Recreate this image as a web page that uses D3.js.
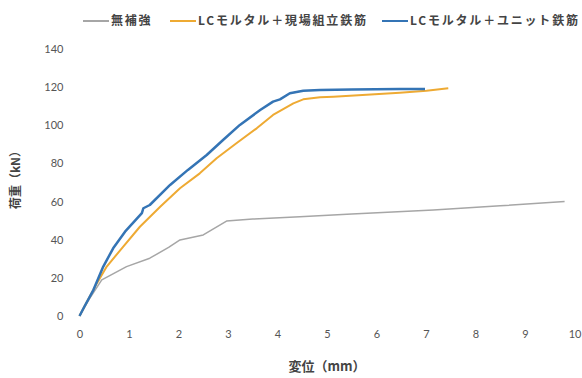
<!DOCTYPE html>
<html>
<head>
<meta charset="utf-8">
<script src="https://cdn.jsdelivr.net/npm/d3@7"></script>
<style>
  body { margin: 0; background: #fff; }
  svg text { font-family: "Noto Sans CJK JP", "Noto Sans", sans-serif; }
  .tick text { font-family: Lato, "Noto Sans", sans-serif; font-size: 11px; fill: #555; }
</style>
</head>
<body>
<div id="chart"></div>
<script>
// series names (legend order)
const seriesNames = ["無補強", "LCモルタル＋現場組立鉄筋", "LCモルタル＋ユニット鉄筋"];
const seriesColors = ["#a6a6a6", "#eeaa33", "#3474b5"];
const seriesWidths = [1.5, 2, 2.5];

// displacement (mm) / load (kN)
const plainDisp = [0, 0.2, 0.45, 0.95, 1.42, 1.8, 2.03, 2.5, 2.97, 3.5, 4.45, 5.5, 7.15, 8.5, 9.8];
const plainLoad = [0, 9, 18.9, 25.9, 30.3, 36, 39.9, 42.5, 49.8, 50.8, 52.1, 53.5, 55.6, 57.8, 60];

const siteDisp = [0, 0.1, 0.35, 0.55, 0.88, 1.22, 1.63, 2.03, 2.43, 2.77, 3.17, 3.58, 3.91, 4.32, 4.52, 4.86, 5.13, 5.8, 6.47, 7.01, 7.45];
const siteLoad = [0, 5, 17.1, 25.9, 36.3, 46.8, 57.3, 67, 74.8, 82.7, 90.6, 98.4, 105.4, 111.5, 113.6, 114.7, 115, 116, 117, 118.1, 119.4];

const unitDisp = [0, 0.1, 0.28, 0.48, 0.68, 0.92, 1.26, 1.29, 1.42, 1.83, 2.19, 2.57, 2.9, 3.24, 3.65, 3.91, 4.05, 4.25, 4.52, 4.86, 5.5, 6.47, 6.98];
const unitLoad = [0, 5, 13.6, 25.9, 35.5, 44.2, 53.9, 56.5, 58.2, 68.7, 76.6, 84.4, 92.3, 100.2, 108, 112.4, 113.6, 116.8, 118.1, 118.5, 118.8, 119, 119];

const xTicks = [0, 1, 2, 3, 4, 5, 6, 7, 8, 9, 10];
const yTicks = [0, 20, 40, 60, 80, 100, 120, 140];

const width = 582, height = 378;
const margin = {top: 49, right: 7.5, bottom: 62, left: 79.5};

const svg = d3.select("#chart").append("svg")
  .attr("width", width)
  .attr("height", height);

const x = d3.scaleLinear().domain([0, 10]).range([margin.left, width - margin.right]);
const y = d3.scaleLinear().domain([0, 140]).range([height - margin.bottom, margin.top]);

// axes, no domain line, no ticks
svg.append("g")
  .attr("transform", `translate(0,${height - margin.bottom})`)
  .call(d3.axisBottom(x).tickValues(xTicks).tickSize(0).tickPadding(14).tickFormat(d3.format("d")))
  .call(g => g.select(".domain").remove());

svg.append("g")
  .attr("transform", `translate(${margin.left},0)`)
  .call(d3.axisLeft(y).tickValues(yTicks).tickSize(0).tickPadding(16).tickFormat(d3.format("d")))
  .call(g => g.select(".domain").remove());

const series = [
  plainDisp.map((d, i) => [d, plainLoad[i]]),
  siteDisp.map((d, i) => [d, siteLoad[i]]),
  unitDisp.map((d, i) => [d, unitLoad[i]])
];

const line = d3.line()
  .x(d => x(d[0]))
  .y(d => y(d[1]));

svg.append("g")
  .selectAll("path")
  .data(series)
  .enter()
  .append("path")
  .attr("d", line)
  .attr("fill", "none")
  .attr("stroke", (d, i) => seriesColors[i])
  .attr("stroke-width", (d, i) => seriesWidths[i])
  .attr("stroke-linejoin", "round");

// axis titles
svg.append("text")
  .attr("x", (margin.left + width - margin.right) / 2)
  .attr("y", 371)
  .attr("text-anchor", "middle")
  .attr("font-size", 13)
  .attr("font-weight", "bold")
  .attr("fill", "#444")
  .text("変位（mm）");

svg.append("text")
  .attr("transform", "translate(20,177) rotate(-90)")
  .attr("text-anchor", "middle")
  .attr("font-size", 12)
  .attr("font-weight", "bold")
  .attr("fill", "#444")
  .text("荷重（kN）");

// legend
const legendX = [83, 170, 382];
const legend = svg.append("g")
  .selectAll("g")
  .data(seriesNames)
  .enter()
  .append("g")
  .attr("transform", (d, i) => `translate(${legendX[i]},21)`);

legend.append("line")
  .attr("x1", 0).attr("x2", 26)
  .attr("stroke", (d, i) => seriesColors[i])
  .attr("stroke-width", 2);

legend.append("text")
  .attr("x", 28)
  .attr("dy", "0.36em")
  .attr("font-size", 12)
  .attr("font-weight", "bold")
  .attr("letter-spacing", 1.8)
  .attr("fill", "#444")
  .text(d => d);
</script>
</body>
</html>
